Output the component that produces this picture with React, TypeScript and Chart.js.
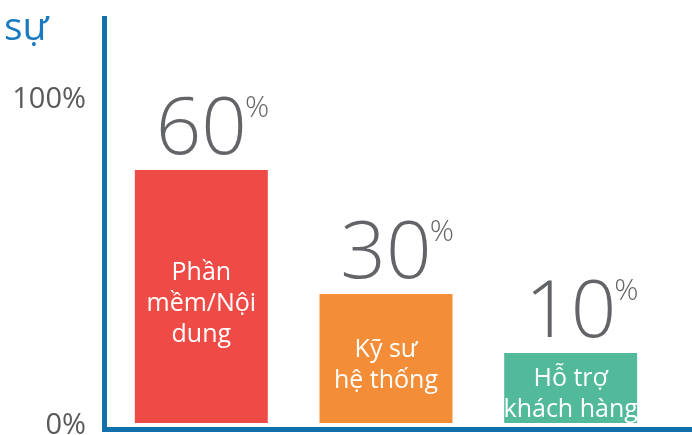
import React, { useEffect, useRef } from "react";
import { Chart, registerables } from "chart.js";

Chart.register(...registerables);

const categories = ["Phần mềm/Nội dung", "Kỹ sư hệ thống", "Hỗ trợ khách hàng"];
const barLabelLines = [["Phần", "mềm/Nội", "dung"], ["Kỹ sư", "hệ thống"], ["Hỗ trợ", "khách hàng"]];
const barHeights = [77.6, 39.6, 21.5];
const shareLabels = ["60", "30", "10"];
const barColors = ["#EF4B46", "#F48D37", "#52BA9A"];
const yTickValues = [0, 100];
const yTickLabels = ["0%", "100%"];
const titleText = "sự";

const FONT = "'Open Sans', 'Noto Sans', sans-serif";

const overlayPlugin = {
  id: "overlay",
  afterDatasetsDraw(chart: any) {
    const ctx = chart.ctx;
    const area = chart.chartArea;
    const yScale = chart.scales.y;
    ctx.save();
    // axis lines
    ctx.strokeStyle = "#1170AA";
    ctx.lineWidth = 5;
    ctx.beginPath();
    ctx.moveTo(area.left - 4.5, area.top);
    ctx.lineTo(area.left - 4.5, area.bottom + 2);
    ctx.stroke();
    ctx.beginPath();
    ctx.moveTo(area.left - 7, area.bottom - 0.5);
    ctx.lineTo(chart.width, area.bottom - 0.5);
    ctx.stroke();

    // title
    ctx.fillStyle = "#1A7AC0";
    ctx.font = `39px ${FONT}`;
    ctx.textAlign = "left";
    ctx.textBaseline = "alphabetic";
    ctx.fillText(titleText, 4, 40);

    // y tick labels
    ctx.fillStyle = "#595959";
    ctx.font = `29px ${FONT}`;
    ctx.textAlign = "right";
    yTickValues.forEach((v, i) => {
      const py = yScale.getPixelForValue(v);
      ctx.fillText(yTickLabels[i], 86, py + 11);
    });

    // bar annotations
    const meta = chart.getDatasetMeta(0);
    meta.data.forEach((bar: any, i: number) => {
      const x = bar.x;
      const top = bar.y;
      const bottom = bar.base;
      // big number
      ctx.fillStyle = "#636467";
      ctx.font = `300 80px ${FONT}`;
      ctx.textAlign = "center";
      const base = top - 16;
      ctx.fillText(shareLabels[i], x, base);
      const w = ctx.measureText(shareLabels[i]).width;
      ctx.font = `300 30px ${FONT}`;
      ctx.textAlign = "left";
      ctx.fillText("%", x + w / 2 - 2, base - 37);
      // inner label
      const lines = barLabelLines[i];
      const lh = 31;
      ctx.fillStyle = "#FFFFFF";
      ctx.font = `25px ${FONT}`;
      ctx.textAlign = "center";
      const center = (top + bottom) / 2 + 5;
      const first = center - ((lines.length - 1) / 2) * lh + 9;
      lines.forEach((ln, j) => ctx.fillText(ln, x, first + j * lh));
    });
    ctx.restore();
  },
};

export default function App() {
  const ref = useRef<HTMLCanvasElement | null>(null);
  useEffect(() => {
    document.body.style.margin = "0";
    const canvas = ref.current!;
    const chart = new Chart(canvas, {
      type: "bar",
      data: {
        labels: categories,
        datasets: [
          {
            data: barHeights,
            backgroundColor: barColors,
            borderWidth: 0,
            barPercentage: 0.72,
            categoryPercentage: 1,
          },
        ],
      },
      options: {
        animation: false,
        responsive: false,
        maintainAspectRatio: false,
        layout: { padding: { left: 0, right: 29, top: 16, bottom: 5 } },
        plugins: { legend: { display: false }, tooltip: { enabled: false }, title: { display: false } },
        scales: {
          x: { display: false },
          y: {
            display: true,
            min: -2.15,
            max: 124.85,
            grid: { display: false, drawTicks: false },
            border: { display: false },
            ticks: { display: false },
            afterFit: (scale: any) => {
              scale.width = 109;
            },
          },
        },
      },
      plugins: [overlayPlugin],
    });
    return () => chart.destroy();
  }, []);
  return (
    <div style={{ width: 692, height: 435 }}>
      <canvas ref={ref} width={692} height={435} style={{ display: "block" }} />
    </div>
  );
}
